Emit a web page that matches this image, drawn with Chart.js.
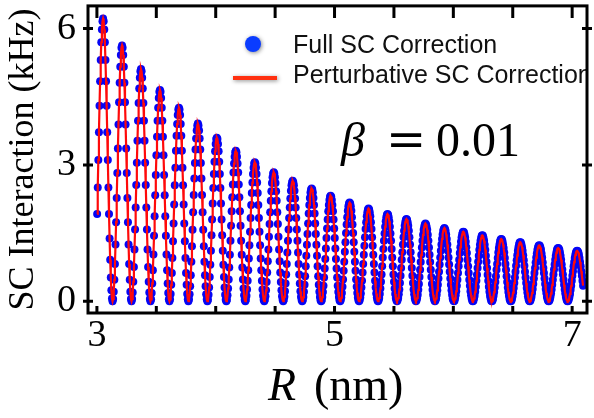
<!DOCTYPE html>
<html>
<head>
<meta charset="utf-8">
<script src="https://cdn.jsdelivr.net/npm/chart.js@4.4.0/dist/chart.umd.min.js"></script>
<style>
  html, body { margin: 0; padding: 0; background: #fff; }
  #wrap { width: 594px; height: 418px; }
</style>
</head>
<body>
<div id="wrap"><canvas id="scChart" width="594" height="418"></canvas></div>
<script>
// R sampling of the simulation (nm)
const rStart = 3.002;
const rStep = 0.0049875;

// SC interaction (kHz), one row per oscillation (trough to trough)
const fullSC = [
  [1.92,2.50,3.11,3.72,4.30,4.84,5.31,5.70,5.98,6.16,6.22,6.16,5.98,5.70,5.31,4.84,4.30,3.72,3.11,2.50,1.92,1.38,0.91,0.52,0.24,0.06],
  [0,.05,.21,.47,.82,1.25,1.74,2.27,2.82,3.36,3.89,4.38,4.81,5.16,5.42,5.58,5.63,5.58,5.42,5.16,4.81,4.38,3.89,3.36,2.82,2.27,1.74,1.25,.82,.47,.21,.05],
  [0,.05,.19,.43,.75,1.14,1.58,2.06,2.56,3.05,3.53,3.97,4.36,4.68,4.92,5.06,5.11,5.06,4.92,4.68,4.36,3.97,3.53,3.05,2.56,2.06,1.58,1.14,.75,.43,.19,.05],
  [0,.04,.18,.39,.68,1.03,1.44,1.87,2.33,2.78,3.21,3.62,3.97,4.26,4.47,4.61,4.65,4.61,4.47,4.26,3.97,3.62,3.21,2.78,2.33,1.87,1.44,1.03,.68,.39,.18,.04],
  [0,.04,.16,.36,.62,.95,1.32,1.71,2.13,2.55,2.94,3.31,3.64,3.90,4.10,4.22,4.26,4.22,4.10,3.90,3.64,3.31,2.94,2.55,2.13,1.71,1.32,.95,.62,.36,.16,.04],
  [0,.04,.15,.33,.57,.87,1.21,1.57,1.96,2.34,2.70,3.04,3.34,3.58,3.76,3.87,3.91,3.87,3.76,3.58,3.34,3.04,2.70,2.34,1.96,1.57,1.21,.87,.57,.33,.15,.04],
  [0,.03,.14,.30,.53,.80,1.11,1.45,1.80,2.15,2.49,2.80,3.07,3.30,3.46,3.57,3.60,3.57,3.46,3.30,3.07,2.80,2.49,2.15,1.80,1.45,1.11,.80,.53,.30,.14,.03],
  [0,.03,.13,.28,.48,.74,1.02,1.33,1.66,1.98,2.29,2.57,2.83,3.03,3.18,3.28,3.31,3.28,3.18,3.03,2.83,2.57,2.29,1.98,1.66,1.33,1.02,.74,.48,.28,.13,.03],
  [0,.03,.12,.26,.45,.68,.94,1.23,1.53,1.83,2.12,2.38,2.61,2.80,2.94,3.03,3.06,3.03,2.94,2.80,2.61,2.38,2.12,1.83,1.53,1.23,.94,.68,.45,.26,.12,.03],
  [0,.03,.11,.24,.42,.63,.88,1.14,1.42,1.70,1.96,2.21,2.42,2.60,2.73,2.81,2.84,2.81,2.73,2.60,2.42,2.21,1.96,1.70,1.42,1.14,.88,.63,.42,.24,.11,.03],
  [0,.03,.10,.22,.39,.59,.82,1.07,1.33,1.58,1.83,2.06,2.26,2.43,2.55,2.62,2.65,2.62,2.55,2.43,2.26,2.06,1.83,1.58,1.33,1.07,.82,.59,.39,.22,.10,.03],
  [0,.02,.09,.21,.36,.55,.77,1.00,1.24,1.48,1.71,1.93,2.12,2.27,2.39,2.46,2.48,2.46,2.39,2.27,2.12,1.93,1.71,1.48,1.24,1.00,.77,.55,.36,.21,.09,.02],
  [0,.02,.09,.20,.34,.52,.72,.93,1.16,1.39,1.60,1.80,1.98,2.12,2.23,2.30,2.32,2.30,2.23,2.12,1.98,1.80,1.60,1.39,1.16,.93,.72,.52,.34,.20,.09,.02],
  [0,.02,.08,.18,.32,.48,.67,.87,1.09,1.30,1.50,1.69,1.85,1.99,2.09,2.15,2.17,2.15,2.09,1.99,1.85,1.69,1.50,1.30,1.09,.87,.67,.48,.32,.18,.08,.02],
  [0,.02,.08,.17,.30,.45,.63,.82,1.02,1.22,1.41,1.59,1.74,1.87,1.96,2.02,2.04,2.02,1.96,1.87,1.74,1.59,1.41,1.22,1.02,.82,.63,.45,.30,.17,.08,.02],
  [0,.02,.07,.16,.28,.43,.59,.77,.96,1.15,1.33,1.49,1.64,1.76,1.85,1.90,1.92,1.90,1.85,1.76,1.64,1.49,1.33,1.15,.96,.77,.59,.43,.28,.16,.07,.02],
  [0,.02,.07,.15,.26,.40,.56,.73,.91,1.08,1.25,1.41,1.55,1.66,1.74,1.79,1.81,1.79,1.74,1.66,1.55,1.41,1.25,1.08,.91,.73,.56,.40,.26,.15,.07,.02],
  [0,.02,.07,.14,.25,.38,.53,.69,.86,1.02,1.18,1.33,1.46,1.57,1.64,1.69,1.71,1.69,1.64,1.57,1.46,1.33,1.18,1.02,.86,.69,.53,.38,.25,.14,.07,.02],
  [0,.02,.06,.14,.24,.36,.50,.65,.81,.96,1.11,1.25,1.37,1.47,1.55,1.59,1.61,1.59,1.55,1.47,1.37,1.25,1.11,.96,.81,.65,.50,.36,.24,.14,.06,.02],
  [0,.01,.06,.13,.22,.34,.47,.62,.77,.91,1.06,1.19,1.31,1.40,1.47,1.52,1.53,1.52,1.47,1.40,1.31,1.19,1.06,.91,.77,.62,.47,.34,.22,.13,.06,.01],
  [0,.01,.06,.12,.21,.32,.45,.58,.73,.87,1.00,1.13,1.24,1.33,1.39,1.44,1.45,1.44,1.39,1.33,1.24,1.13,1.00,.87,.73,.58,.45,.32,.21,.12,.06,.01],
  [0,.01,.05,.12,.20,.30,.42,.55,.69,.82,.95,1.07,1.17,1.25,1.32,1.36,1.37,1.36,1.32,1.25,1.17,1.07,.95,.82,.69,.55,.42,.30,.20,.12,.05,.01],
  [0,.01,.05,.11,.19,.29,.40,.52,.65,.78,.90,1.01,1.11,1.19,1.25,1.29,1.30,1.29,1.25,1.19,1.11,1.01,.90,.78,.65,.52,.40,.29,.19,.11,.05,.01],
  [0,.01,.05,.10,.18,.27,.38,.50,.62,.73,.85,.96,1.05,1.13,1.18,1.22,1.23,1.22,1.18,1.13,1.05,.96,.85,.73,.62,.50,.38,.27,.18,.10,.05,.01],
  [0,.01,.04,.10,.17,.26,.36,.47,.59,.70,.81,.91,1.00,1.07,1.13,1.16,1.17,1.16,1.13,1.07,1.00,.91,.81,.70,.59,.47,.36,.26,.17,.10,.04,.01],
  [0,.01,.04,.09,.16,.25,.34,.45,.56,.66,.77,.86,.95,1.02,1.07,1.10,1.11,1.10,1.07,1.02,.95,.86,.77,.66,.56,.45,.34]
];

const xTickMarks = [3, 3.5, 4, 4.5, 5, 5.5, 6, 6.5, 7];
const xTickLabels = [3, 5, 7];
const yTicks = [0, 3, 6];
const legendLabels = ['Full SC Correction', 'Perturbative SC Correction'];

const points = fullSC.flat().map((v, i) => ({ x: rStart + i * rStep, y: v }));

const BLUE = '#0505f5';
const RED = '#ff0a0a';
const SERIF = '"Liberation Serif", "Times New Roman", serif';

// frame, inward ticks, legend, beta label and the x title
const decorPlugin = {
  id: 'decor',
  afterDraw(chart) {
    const { ctx, chartArea: a, scales } = chart;
    ctx.save();

    // legend (clipped at the right frame like the original)
    ctx.save();
    ctx.beginPath();
    ctx.rect(0, 0, a.right, chart.height);
    ctx.clip();
    ctx.shadowColor = 'rgba(0,0,0,0.45)';
    ctx.shadowBlur = 4;
    ctx.shadowOffsetX = 1;
    ctx.shadowOffsetY = 1;
    ctx.fillStyle = '#0a3cff';
    ctx.beginPath();
    ctx.arc(253, 44, 8, 0, Math.PI * 2);
    ctx.fill();
    ctx.strokeStyle = '#ff3010';
    ctx.lineWidth = 4;
    ctx.beginPath();
    ctx.moveTo(233, 78);
    ctx.lineTo(277, 78);
    ctx.stroke();
    ctx.shadowColor = 'transparent';
    ctx.fillStyle = '#111';
    ctx.font = '25px "Liberation Sans", Arial, sans-serif';
    ctx.textBaseline = 'alphabetic';
    ctx.textAlign = 'left';
    ctx.fillText(legendLabels[0], 293, 53);
    ctx.fillText(legendLabels[1], 293, 83);
    ctx.restore();

    // beta = 0.01
    ctx.fillStyle = '#000';
    ctx.textBaseline = 'alphabetic';
    ctx.font = 'italic 48px ' + SERIF;
    ctx.fillText('β', 341, 156);
    ctx.font = '48px "DejaVu Serif", serif';
    ctx.textAlign = 'center';
    ctx.fillText('=', 406, 156);
    ctx.textAlign = 'left';
    ctx.font = '48px ' + SERIF;
    ctx.fillText('0.01', 436, 156);

    // x title: R (nm)
    ctx.font = 'italic 46px ' + SERIF;
    ctx.fillText('R', 268, 400);
    ctx.font = '46px ' + SERIF;
    ctx.fillText('(nm)', 314, 400);

    // frame
    ctx.strokeStyle = '#000';
    ctx.lineWidth = 3;
    ctx.strokeRect(a.left, a.top, a.right - a.left, a.bottom - a.top);

    // tick marks
    ctx.beginPath();
    xTickMarks.forEach((v) => {
      const px = scales.x.getPixelForValue(v);
      ctx.moveTo(px, a.bottom);
      ctx.lineTo(px, a.bottom - 7);
      ctx.moveTo(px, a.top);
      ctx.lineTo(px, a.top + 12);
    });
    yTicks.forEach((v) => {
      const py = scales.y.getPixelForValue(v);
      ctx.moveTo(a.left - 5, py);
      ctx.lineTo(a.left + 5, py);
      ctx.moveTo(a.right - 5, py);
      ctx.lineTo(a.right + 5, py);
    });
    ctx.stroke();
    ctx.restore();
  }
};

new Chart(document.getElementById('scChart').getContext('2d'), {
  type: 'line',
  data: {
    datasets: [
      {
        label: legendLabels[1],
        data: points,
        borderColor: RED,
        borderWidth: 2.2,
        pointRadius: 0,
        fill: false,
        tension: 0,
      },
      {
        label: legendLabels[0],
        data: points,
        showLine: false,
        pointRadius: 4,
        pointBorderWidth: 0,
        pointBackgroundColor: BLUE,
        pointBorderColor: BLUE,
      },
    ],
  },
  options: {
    responsive: false,
    animation: false,
    devicePixelRatio: 1,
    layout: { padding: { top: 3, right: 7, left: 0, bottom: 0 } },
    plugins: { legend: { display: false }, tooltip: { enabled: false } },
    scales: {
      x: {
        type: 'linear',
        min: 2.925,
        max: 7.125,
        grid: { display: false },
        border: { display: false },
        afterBuildTicks: (scale) => { scale.ticks = xTickMarks.map((v) => ({ value: v })); },
        afterFit: (scale) => { scale.height = 105; },
        ticks: {
          autoSkip: false,
          maxRotation: 0,
          padding: -4,
          color: '#000',
          font: { family: SERIF, size: 38, lineHeight: 1 },
          callback: (v) => (xTickLabels.includes(v) ? String(v) : ''),
        },
      },
      y: {
        min: -0.26,
        max: 6.5,
        grid: { display: false },
        border: { display: false },
        afterBuildTicks: (scale) => { scale.ticks = yTicks.map((v) => ({ value: v })); },
        afterFit: (scale) => { scale.width = 88; },
        ticks: {
          padding: 4,
          color: '#000',
          font: { family: SERIF, size: 38, lineHeight: 0.1 },
        },
        title: {
          display: true,
          text: 'SC Interaction (kHz)',
          color: '#000',
          font: { family: SERIF, size: 36 },
          padding: { top: 2, bottom: 0 },
        },
      },
    },
  },
  plugins: [decorPlugin],
});
</script>
</body>
</html>
